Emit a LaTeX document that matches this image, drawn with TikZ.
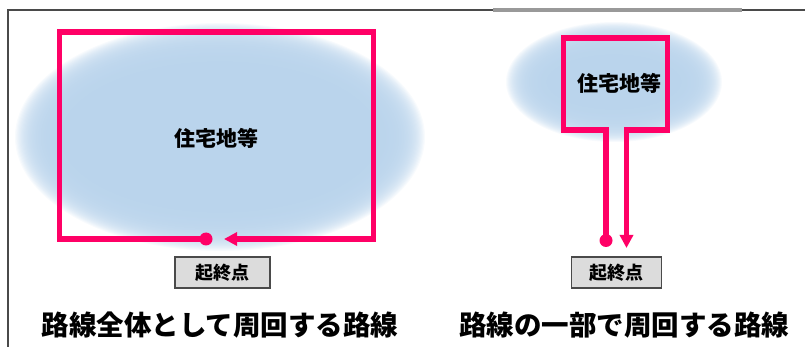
\documentclass[tikz,border=0pt]{standalone}
\usepackage{fontspec}
\setmainfont{Noto Sans CJK JP}
\usetikzlibrary{arrows.meta,positioning}
\definecolor{route}{HTML}{FF0066}
\definecolor{area}{HTML}{BAD4EC}
\definecolor{frame}{HTML}{4A4A4A}
\definecolor{boxfill}{HTML}{DCDCDC}
\tikzset{
 loop/.style={draw=route,line width=5.5pt,line join=miter},
 loopend/.style={loop,-{Triangle[length=13pt,width=13pt]}},
 startdot/.style={circle,fill=route,inner sep=0pt,minimum size=13pt},
 startbox/.style={draw=frame,fill=boxfill,line width=1.3pt,minimum height=31pt,font=\bfseries\fontsize{18}{18}\selectfont,inner sep=0pt},
 arealabel/.style={font=\bfseries\fontsize{21}{21}\selectfont},
 caption/.style={font=\bfseries\fontsize{27.5}{28}\selectfont}
}
\newcommand\glow[5]{%
  \fill[area] (#1) ellipse [x radius=#2, y radius=#3];
  \foreach \k in {1,...,40}
    \fill[area,opacity=.1] (#1) ellipse [x radius={#2+#4*\k/40}, y radius={#3+#5*\k/40}];
}
\begin{document}
\begin{tikzpicture}[x=1pt,y=-1pt]
  \useasboundingbox (0,0) rectangle (805,347);
  \draw[frame,line width=1.6pt] (8,347) -- (8,10) -- (805,10);
  \draw[gray!80,line width=3.5pt] (493,10) -- (742,10);

  \coordinate (blob1) at (220,137);
  \coordinate (blob2) at (614,82);
  \glow{blob1}{160}{76}{45}{38}
  \glow{blob2}{68}{28}{40}{32}

  \node[arealabel] (area1) at (216,138) {住宅地等};
  \node[arealabel] (area2) at (619,83) {住宅地等};

  \coordinate (nw1) at (59.5,32);
  \coordinate (se1) at (373.5,239);
  \node[startdot] (dot1) at (206,239) {};
  \coordinate (end1) at (224,239);
  \draw[loopend] (dot1.center) -| (nw1) -| (se1) -- (end1);

  \coordinate (nw2) at (563.5,38);
  \coordinate (se2) at (667.5,130);
  \node[startdot] (dot2) at (606,240.5) {};
  \coordinate (end2) at (626.5,248);
  \draw[loopend] (dot2.center) |- (nw2 |- se2) -- (nw2) -| (se2) -| (end2);

  \node[startbox,minimum width=95pt] (start1) at (222.5,272.5) {起終点};
  \node[startbox,minimum width=90pt] (start2) at (616.5,272.5) {起終点};

  \node[caption] (title1) at (220,325) {路線全体として周回する路線};
  \node[caption] (title2) at (624,325) {路線の一部で周回する路線};
\end{tikzpicture}
\end{document}
